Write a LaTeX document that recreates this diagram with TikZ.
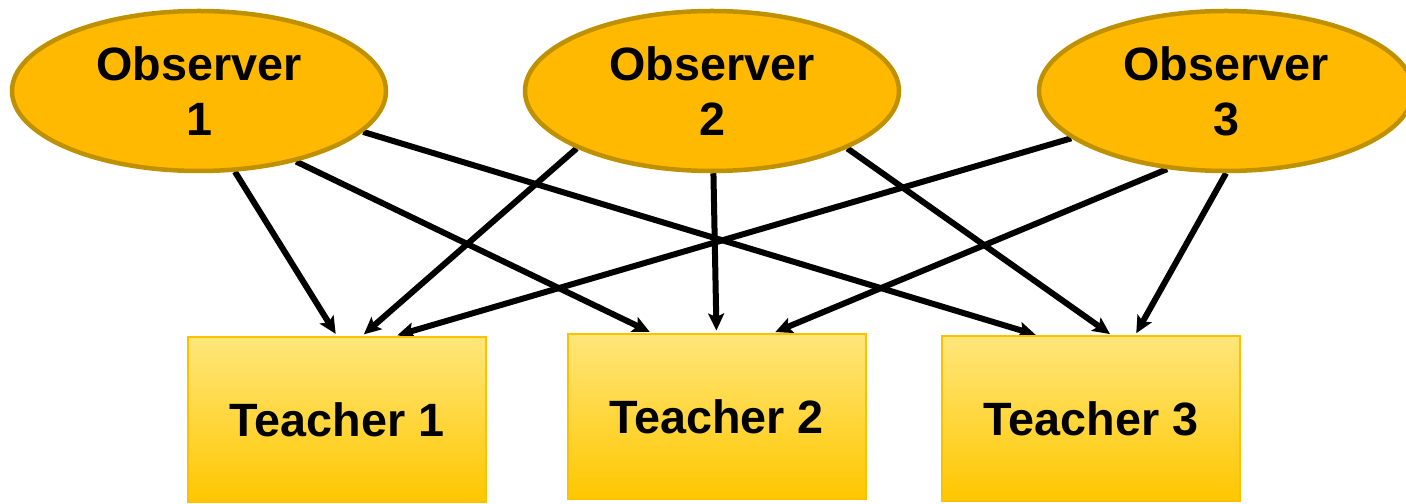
\documentclass[tikz,border=0pt]{standalone}
\usepackage{fontspec}
\setmainfont{Liberation Sans}
\usetikzlibrary{shapes.geometric,arrows.meta,backgrounds}
\definecolor{obsfill}{HTML}{FFB900}
\definecolor{obsline}{HTML}{BF9000}
\definecolor{teachtop}{HTML}{FFE67A}
\definecolor{teachbot}{HTML}{FFC700}
\definecolor{teachline}{HTML}{FFC000}
\begin{document}
\begin{tikzpicture}[
  observer/.style={ellipse,draw=obsline,fill=obsfill,line width=0.09cm,minimum width=7.48cm,minimum height=3.2cm,inner sep=0pt,align=center,font=\fontsize{26.6}{31.2}\selectfont\bfseries},
  teacher/.style={rectangle,draw=teachline,line width=0.04cm,top color=teachtop,bottom color=teachbot,minimum width=5.96cm,minimum height=3.3cm,inner sep=0pt,font=\fontsize{26.6}{31.2}\selectfont\bfseries},
  link/.style={-{Stealth[length=0.34cm,width=0.32cm,inset=0.07cm]},line width=0.12cm,black,shorten >=0.05cm}
]
\useasboundingbox (0,0) rectangle (28.12,10.08);

% Observers
\node[observer] (obs1) at (3.98,8.26) {Observer\\1};
\node[observer] (obs2) at (14.24,8.26) {Observer\\2};
\node[observer] (obs3) at (24.52,8.26) {Observer\\3};

% Teachers
\node[teacher] (t1) at (6.74,1.69) {Teacher 1};
\node[teacher] (t2) at (14.33,1.75) {Teacher 2};
\node[teacher] (t3) at (21.82,1.70) {Teacher 3};

% Links (behind the ellipses)
\begin{scope}[on background layer]
\draw[link] (obs1.-66) -- (t1.north);
\draw[link] (obs1.-36) -- ([xshift=-1.29cm]t2.north);
\draw[link] (obs1.-14) -- ([xshift=-1.06cm]t3.north);
\draw[link] (obs2.203) -- ([xshift=0.5cm]t1.north);
\draw[link] (obs2.-89) -- (t2.north);
\draw[link] (obs2.-23) -- ([xshift=0.42cm]t3.north);
\draw[link] (obs3.-163) -- ([xshift=1.16cm]t1.north);
\draw[link] (obs3.-127) -- ([xshift=1.13cm]t2.north);
\draw[link] (obs3.-90) -- ([xshift=0.88cm]t3.north);
\end{scope}
\end{tikzpicture}
\end{document}
